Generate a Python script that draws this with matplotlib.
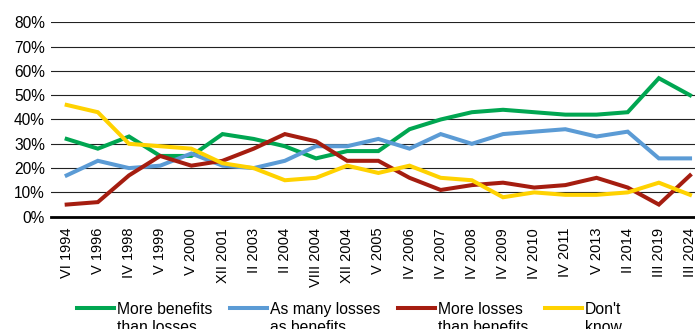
import matplotlib
matplotlib.use("Agg")
import matplotlib.pyplot as plt
from matplotlib.lines import Line2D

plt.rcParams['font.family'] = ['Liberation Sans', 'DejaVu Sans']

# survey waves
waves = ['VI 1994', 'V 1996', 'IV 1998', 'V 1999', 'V 2000', 'XII 2001', 'II 2003',
         'II 2004', 'VIII 2004', 'XII 2004', 'V 2005', 'IV 2006', 'IV 2007', 'IV 2008',
         'IV 2009', 'IV 2010', 'IV 2011', 'V 2013', 'II 2014', 'III 2019', 'III 2024']

# answers in percent
more_benefits = [32, 28, 33, 25, 25, 34, 32, 29, 24, 27, 27, 36, 40, 43, 44, 43, 42, 42, 43, 57, 50]
as_many = [17, 23, 20, 21, 26, 21, 20, 23, 29, 29, 32, 28, 34, 30, 34, 35, 36, 33, 35, 24, 24]
more_losses = [5, 6, 17, 25, 21, 23, 28, 34, 31, 23, 23, 16, 11, 13, 14, 12, 13, 16, 12, 5, 17]
dont_know = [46, 43, 30, 29, 28, 22, 20, 15, 16, 21, 18, 21, 16, 15, 8, 10, 9, 9, 10, 14, 9]

labels = ['More benefits\nthan losses', 'As many losses\nas benefits',
          'More losses\nthan benefits', "Don't\nknow"]
colors = ['#00A651', '#5B9BD5', '#A51D10', '#FFD200']
series = [more_benefits, as_many, more_losses, dont_know]

W, H = 695, 329
fig = plt.figure(figsize=(W / 100, H / 100), dpi=100)
ax = fig.add_axes([51.1 / W, 1 - 216.7 / H, 654.5 / W, 194.4 / H])

x = range(len(waves))
for vals, c in zip(series, colors):
    ax.plot(x, vals, color=c, lw=2.9, solid_joinstyle='miter', zorder=3)

ax.set_xlim(-0.5, len(waves) - 0.5)
ax.set_ylim(0, 80)
ax.set_yticks(range(0, 81, 10))
ax.set_yticklabels([f'{v}%' for v in range(0, 81, 10)], fontsize=11.2)
ax.set_xticks(list(x))
ax.set_xticklabels(waves, rotation=90, fontsize=10.5)
ax.tick_params(axis='both', length=0)
ax.tick_params(axis='y', pad=4.5)
ax.tick_params(axis='x', pad=8)
ax.yaxis.grid(True, color='#222222', lw=0.8)
ax.set_axisbelow(True)
for s in ['top', 'right', 'left']:
    ax.spines[s].set_visible(False)
ax.spines['bottom'].set_linewidth(2)
ax.spines['bottom'].set_color('black')
ax.spines['bottom'].set_zorder(4)

# legend drawn by hand so the handle sits level with the first text line
starts = [76.7, 230, 397.7, 545]
for px, lab, c in zip(starts, labels, colors):
    yy = 1 - 308.3 / H
    fig.add_artist(Line2D([px / W, (px + 37) / W], [yy, yy], color=c, lw=2.9,
                          transform=fig.transFigure))
    fig.text((px + 40) / W, 1 - 302.3 / H, lab, fontsize=11.3, va='top', ha='left')

fig.savefig('out.png', dpi=100)
